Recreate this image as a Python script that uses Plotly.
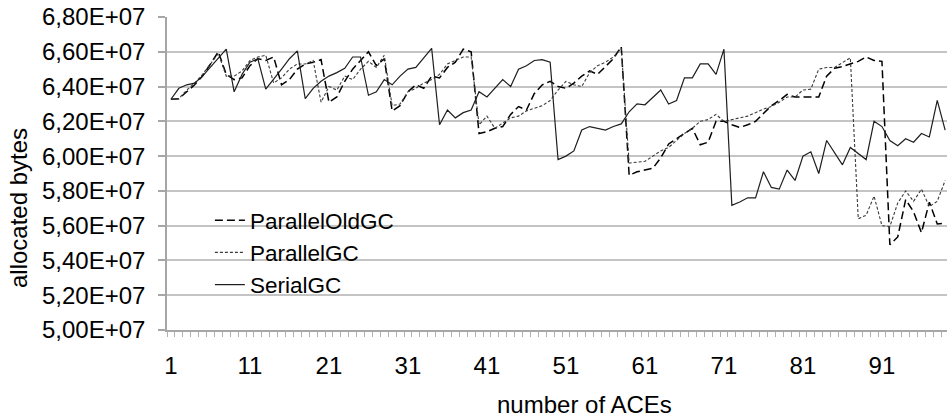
import numpy as np
import plotly.graph_objects as go

# Allocated bytes per number of ACEs, in millions of bytes
aces = list(range(1, 100))

parallel_old_gc = [
    63.27, 63.3, 63.7, 64.1, 64.6, 65.3, 66.0, 64.7, 64.4, 64.5,
    65.2, 65.6, 65.5, 65.7, 64.1, 64.4, 65.0, 65.3, 65.4, 65.55,
    63.1, 63.4, 64.3, 65.0, 65.5, 66.0, 65.2, 65.6, 62.6, 62.9,
    63.7, 64.1, 63.9, 64.6, 64.5, 65.1, 65.4, 66.15, 66.0, 61.3,
    61.4, 61.6, 61.7, 62.4, 62.85, 62.65, 63.6, 64.1, 64.3, 64.0,
    63.9, 64.2, 64.6, 64.9, 64.7, 65.15, 65.6, 66.3, 58.9, 59.1,
    59.2, 59.3, 59.9, 60.7, 61.0, 61.3, 61.6, 60.65, 60.8, 62.0,
    62.0, 61.8, 61.65, 61.8, 62.0, 62.45, 62.9, 63.2, 63.55, 63.4,
    63.4, 63.4, 63.4, 64.6, 65.05, 65.15, 65.3, 65.45, 65.7, 65.5,
    65.45, 54.9, 55.35, 57.5, 56.8, 55.6, 57.35, 56.1, 56.15,
]

parallel_gc = [
    63.27, 63.3, 63.8, 64.2, 64.7, 65.3, 65.9, 64.6, 64.6, 64.9,
    65.5, 65.7, 65.8, 64.2, 64.5, 65.0, 65.3, 65.3, 65.5, 63.1,
    64.0, 63.8, 64.6, 64.4, 65.0, 65.45, 65.1, 65.8, 62.9, 63.0,
    63.7, 63.9, 64.2, 64.4, 64.7, 65.3, 65.5, 65.7, 65.7, 61.8,
    62.3, 61.6, 61.9, 62.2, 62.3, 62.6, 62.75, 62.9, 63.2, 63.8,
    64.3, 64.1, 64.0, 64.8, 65.2, 65.4, 65.7, 66.2, 59.6, 59.65,
    59.7, 60.0, 60.3, 60.5, 60.9, 61.3, 61.6, 62.0, 62.1, 62.4,
    62.0, 62.1, 62.2, 62.3, 62.5, 62.7, 62.85, 63.1, 63.4, 63.4,
    63.8, 63.85, 65.0, 65.1, 65.1, 65.4, 65.65, 56.4, 56.6, 57.7,
    56.0, 55.95, 57.3, 58.0, 57.4, 58.1, 57.1, 57.4, 58.6,
]

serial_gc = [
    63.27, 63.9, 64.1, 64.2, 64.6, 65.1, 65.65, 66.15, 63.7, 64.7,
    65.4, 65.6, 63.85, 64.4, 65.0, 65.6, 66.05, 63.3, 63.9, 64.3,
    64.6, 64.8, 65.05, 65.7, 65.7, 63.5, 63.7, 64.4, 64.1, 64.6,
    65.0, 65.1, 65.65, 66.2, 61.8, 62.65, 62.2, 62.5, 62.65, 63.7,
    63.4, 63.9, 64.4, 64.0, 65.0, 65.2, 65.5, 65.55, 65.4, 59.8,
    60.0, 60.3, 61.5, 61.7, 61.6, 61.5, 61.7, 61.85, 62.55, 63.0,
    62.95, 63.4, 63.8, 63.0, 63.2, 64.5, 64.5, 65.3, 65.3, 64.7,
    66.15, 57.17, 57.36, 57.6, 57.6, 59.1, 58.2, 58.1, 59.2, 58.6,
    60.0, 60.25, 59.0, 60.9, 60.2, 59.5, 60.5, 60.15, 59.8, 62.0,
    61.7, 60.9, 60.6, 61.0, 60.8, 61.3, 61.1, 63.2, 61.5,
]

x_tick_values = [1, 11, 21, 31, 41, 51, 61, 71, 81, 91]
y_tick_values = [50e6 + 2e6 * i for i in range(10)]
y_tick_labels = ["5,00E+07", "5,20E+07", "5,40E+07", "5,60E+07", "5,80E+07",
                 "6,00E+07", "6,20E+07", "6,40E+07", "6,60E+07", "6,80E+07"]

FONT = "Liberation Sans, Arial, sans-serif"
W, H = 947, 419
ML, MR, MT, MB = 167, 0, 17, 89
PLOT_W, PLOT_H = W - ML - MR, H - MT - MB
cat_px = 7.9  # width of one category band in pixels
x_max = 0.5 + PLOT_W / cat_px

series = [
    ("ParallelOldGC", parallel_old_gc, dict(color="#000000", width=1.5, dash="8px,4px")),
    ("ParallelGC", parallel_gc, dict(color="#3a3a3a", width=1.1, dash="3px,2px")),
    ("SerialGC", serial_gc, dict(color="#1e1e1e", width=1.2)),
]

fig = go.Figure()
for name, vals, line in series:
    fig.add_trace(go.Scatter(
        x=aces, y=np.array(vals) * 1e6, name=name, mode="lines", line=line,
    ))

fig.update_layout(
    width=W, height=H,
    margin=dict(l=ML, r=MR, t=MT, b=MB, pad=0),
    paper_bgcolor="white", plot_bgcolor="white",
    font=dict(family=FONT, size=24, color="#000000"),
    showlegend=True,
    legend=dict(
        x=0.055, y=1 - (199 - MT) / PLOT_H, xanchor="left", yanchor="top",
        bgcolor="rgba(0,0,0,0)", borderwidth=0,
        font=dict(family=FONT, size=22.5, color="#000000"),
        tracegroupgap=0,
    ),
    xaxis=dict(
        range=[0.5, x_max],
        tickmode="array", tickvals=x_tick_values,
        ticks="", ticklabelstandoff=13,
        tickfont=dict(family=FONT, size=24, color="#000000"),
        showgrid=False, zeroline=False,
        showline=True, linecolor="#a6a6a6", linewidth=1.5,
        minor=dict(tickmode="linear", tick0=0.5, dtick=1, ticks="outside",
                   ticklen=5, tickwidth=1, tickcolor="#b0b0b0", showgrid=False),
    ),
    yaxis=dict(
        range=[50e6, 68e6],
        tickmode="array", tickvals=y_tick_values, ticktext=y_tick_labels,
        ticks="outside", ticklen=7, tickwidth=1.5, tickcolor="#a6a6a6",
        ticklabelstandoff=8,
        tickfont=dict(family=FONT, size=24, color="#000000"),
        showgrid=True, gridcolor="#c4c4c4", gridwidth=1.5,
        zeroline=False,
        showline=True, linecolor="#a6a6a6", linewidth=1.5,
    ),
    annotations=[
        dict(text="number of ACEs", xref="paper", yref="paper",
             x=(584 - ML) / PLOT_W, y=-(404 - (H - MB)) / PLOT_H,
             xanchor="center", yanchor="middle", showarrow=False,
             font=dict(family=FONT, size=24, color="#000000")),
        dict(text="allocated bytes", xref="paper", yref="paper",
             x=-(ML - 18) / PLOT_W, y=1 - (208 - MT) / PLOT_H,
             xanchor="center", yanchor="middle", showarrow=False, textangle=-90,
             font=dict(family=FONT, size=24, color="#000000")),
    ],
)

fig.write_html("out.html")
